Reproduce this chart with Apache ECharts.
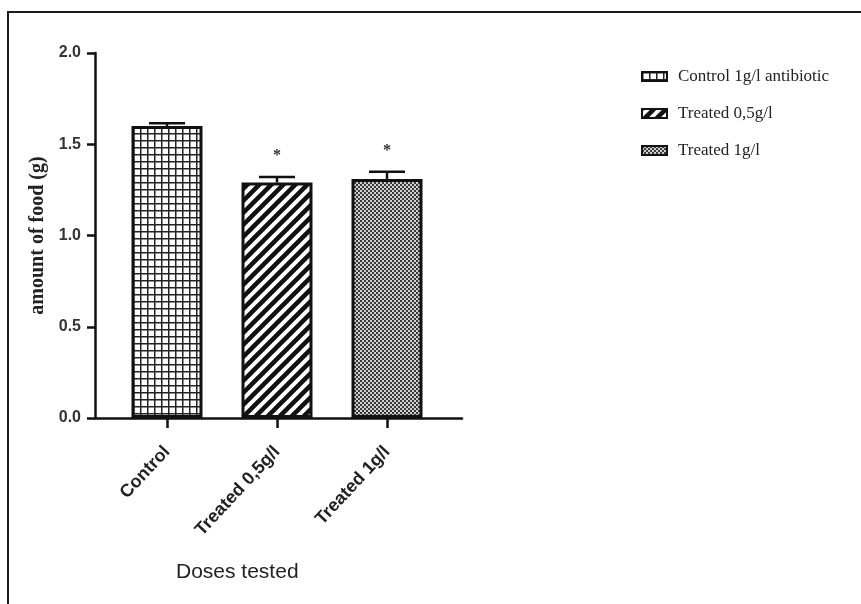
<!DOCTYPE html>
<html>
<head>
<meta charset="utf-8">
<script src="https://cdn.jsdelivr.net/npm/echarts@6/dist/echarts.min.js"></script>
<style>
  html, body { margin: 0; padding: 0; background: #fff; }
  #frame { position: absolute; left: 7px; top: 11px; width: 900px; height: 700px;
           border-top: 2px solid #1a1a1a; border-left: 2px solid #1a1a1a; }
  #chart { position: absolute; left: 0; top: 0; width: 861px; height: 604px; }
</style>
</head>
<body>
<div id="frame"></div>
<div id="chart"></div>
<script>
// ---- data ----
const categories = ['Control', 'Treated 0,5g/l', 'Treated 1g/l'];
const seriesNames = ['Control 1g/l antibiotic', 'Treated 0,5g/l', 'Treated 1g/l'];
const means = [1.60, 1.29, 1.31];
const errTops = [1.615, 1.32, 1.35];
const significance = ['', '*', '*'];
const yTicks = [0.0, 0.5, 1.0, 1.5, 2.0];
const xTitle = 'Doses tested';
const yTitle = 'amount of food (g)';

// ---- patterns ----
function gridPattern() {
  const c = document.createElement('canvas'); c.width = 7; c.height = 7;
  const g = c.getContext('2d');
  g.fillStyle = '#fff'; g.fillRect(0, 0, 7, 7);
  g.fillStyle = '#222'; g.fillRect(0, 0, 7, 1.5); g.fillRect(0, 0, 1.5, 7);
  return c;
}
function stripePattern() {
  const s = 12;
  const c = document.createElement('canvas'); c.width = s; c.height = s;
  const g = c.getContext('2d');
  g.fillStyle = '#fff'; g.fillRect(0, 0, s, s);
  g.strokeStyle = '#111'; g.lineWidth = 4.5; g.lineCap = 'square';
  for (let k = -2; k <= 2; k++) {
    g.beginPath(); g.moveTo(k * s - s, 2 * s); g.lineTo(k * s + 2 * s, -s); g.stroke();
  }
  return c;
}
function dotPattern() {
  const c = document.createElement('canvas'); c.width = 4; c.height = 4;
  const g = c.getContext('2d');
  g.fillStyle = '#cfcfcf'; g.fillRect(0, 0, 4, 4);
  g.fillStyle = '#3a3a3a'; g.fillRect(0, 0, 2, 2); g.fillRect(2, 2, 2, 2);
  return c;
}
const patterns = [gridPattern(), stripePattern(), dotPattern()];

const chart = echarts.init(document.getElementById('chart'), null, { renderer: 'canvas' });

const barSeries = seriesNames.map((name, i) => ({
  name: name,
  type: 'bar',
  xAxisIndex: 0, yAxisIndex: 0,
  barWidth: 71,
  barGap: '-100%',
  data: categories.map((c, j) => (j === i ? means[j] : '-')),
  itemStyle: {
    color: { image: patterns[i], repeat: 'repeat' },
    borderColor: '#111',
    borderWidth: 3
  },
  z: 2
}));

const errData = categories.map((c, i) => [i, means[i], errTops[i]]);

const errSeries = {
  type: 'custom',
  xAxisIndex: 0, yAxisIndex: 0,
  data: errData,
  z: 5,
  renderItem: function (params, api) {
    const x = api.value(0);
    const top = api.coord([x, api.value(2)]);
    const base = api.coord([x, api.value(1)]);
    const half = 18;
    const style = { stroke: '#111', lineWidth: 2.5 };
    const children = [
      { type: 'line', shape: { x1: top[0], y1: base[1], x2: top[0], y2: top[1] }, style: style },
      { type: 'line', shape: { x1: top[0] - half, y1: top[1], x2: top[0] + half, y2: top[1] }, style: style }
    ];
    const sig = significance[params.dataIndex];
    if (sig) {
      children.push({
        type: 'text',
        style: { text: sig, x: top[0], y: top[1] - 21, align: 'center', verticalAlign: 'middle',
                 font: 'bold 16px "Liberation Serif"', fill: '#333' }
      });
    }
    return { type: 'group', children: children };
  }
};

chart.setOption({
  animation: false,
  backgroundColor: 'transparent',
  title: {
    text: xTitle,
    left: 171, top: 557,
    textStyle: { fontFamily: 'Liberation Sans', fontSize: 21, fontWeight: 'normal', color: '#222' }
  },
  legend: {
    orient: 'vertical',
    left: 636, top: 63,
    icon: 'rect',
    itemWidth: 25, itemHeight: 9,
    itemGap: 20,
    itemStyle: { borderWidth: 2, borderColor: '#111' },
    textStyle: { fontFamily: 'Liberation Serif', fontSize: 17, color: '#222', padding: [0, 0, 0, 6] },
    data: seriesNames
  },
  grid: [
    { left: 112, top: 53, width: 330, height: 365 },
    { left: 95, top: 53, width: 367, height: 365 }
  ],
  xAxis: [
    {
      type: 'category', gridIndex: 0, data: categories,
      axisLine: { show: false },
      axisTick: { show: true, alignWithLabel: true, length: 10, lineStyle: { color: '#111', width: 2.5 } },
      axisLabel: { rotate: 47, margin: 31, fontFamily: 'Liberation Sans', fontSize: 18, fontWeight: 'bold', color: '#222' }
    },
    {
      type: 'value', gridIndex: 1, min: 0, max: 1,
      axisLine: { show: true, lineStyle: { color: '#111', width: 2.5 } },
      axisTick: { show: false }, axisLabel: { show: false }, splitLine: { show: false }
    }
  ],
  yAxis: [
    { type: 'value', gridIndex: 0, min: 0, max: 2, show: false, splitLine: { show: false } },
    {
      type: 'value', gridIndex: 1, min: 0, max: 2, interval: 0.5,
      name: yTitle, nameLocation: 'middle', nameGap: 47, nameRotate: 90,
      nameTextStyle: { fontFamily: 'Liberation Serif', fontSize: 20, fontWeight: 'bold', color: '#222' },
      axisLine: { show: true, lineStyle: { color: '#111', width: 2.5 } },
      axisTick: { show: true, length: 8, lineStyle: { color: '#111', width: 2.5 } },
      axisLabel: { margin: 14, fontFamily: 'Liberation Sans', fontSize: 16, fontWeight: 'bold', color: '#333',
                   formatter: v => (yTicks.includes(v) ? v.toFixed(1) : '') },
      splitLine: { show: false }
    }
  ],
  series: barSeries.concat([errSeries])
});
</script>
</body>
</html>
